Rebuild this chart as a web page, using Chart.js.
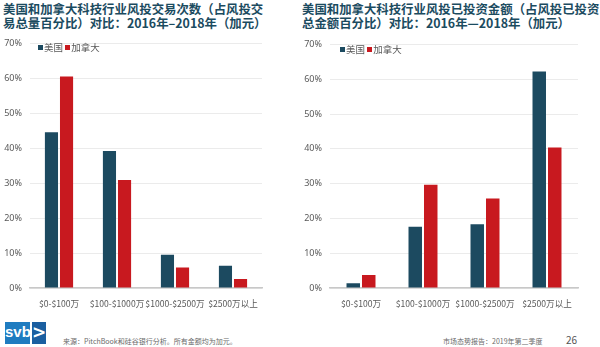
<!DOCTYPE html>
<html>
<head>
<meta charset="utf-8">
<script src="https://cdn.jsdelivr.net/npm/chart.js@4/dist/chart.umd.min.js"></script>
<style>
  body{margin:0;background:#fff;width:600px;height:347px;position:relative;overflow:hidden;font-family:"Noto Sans CJK SC","Noto Sans",sans-serif;}
  .title{position:absolute;top:2px;font-weight:bold;font-size:12.4px;line-height:14px;color:#1b4b5f;white-space:nowrap;}
  .legend{position:absolute;font-size:9.5px;color:#595959;white-space:nowrap;}
  .legend i{display:inline-block;width:5px;height:5px;margin-right:1px;vertical-align:1px;}
  canvas{position:absolute;}
  .logo{position:absolute;left:5px;top:322px;height:22px;}
  .logo .a{position:absolute;left:0;top:0;width:25px;height:22px;background:#1f7cc0;color:#fff;font:bold 15px "Liberation Sans",sans-serif;line-height:20px;text-align:center;}
  .logo .b{position:absolute;left:27px;top:0;width:14px;height:22px;background:#1b5fa0;color:#fff;font:bold 17px "DejaVu Sans",sans-serif;line-height:21px;text-align:center;}
  .foot{position:absolute;font-size:7px;color:#6a6a6a;white-space:nowrap;}
</style>
</head>
<body>
<div class="title" style="left:3px;">美国和加拿大科技行业风投交易次数（占风投交<br>易总量百分比）对比：2016年–2018年（加元）</div>
<div class="title" style="left:302px;">美国和加拿大科技行业风投已投资金额（占风投已投资<br>总金额百分比）对比：2016年—2018年（加元）</div>

<canvas id="c1" style="left:0;top:30px;" width="266" height="280"></canvas>
<canvas id="c2" style="left:300px;top:31px;" width="282" height="279"></canvas>

<div class="legend" style="left:38px;top:40px;"><i style="background:#1c4a60"></i>美国 <i style="background:#c8191f"></i>加拿大</div>
<div class="legend" style="left:340px;top:42px;"><i style="background:#1c4a60"></i>美国 <i style="background:#c8191f"></i>加拿大</div>

<div class="logo"><div class="a">svb</div><div class="b">&gt;</div></div>
<div class="foot" style="left:63px;top:336px;">来源：PitchBook和硅谷银行分析。所有金额均为加元。</div>
<div class="foot" style="left:443px;top:336px;">市场态势报告：2019年第二季度</div>
<div class="foot" style="left:566px;top:332px;font-size:10px;color:#555;">26</div>

<script>
const categories = ["$0-$100万","$100-$1000万","$1000-$2500万","$2500万以上"];
const seriesNames = ["美国","加拿大"];
const dealsUS = [44.6, 39.2, 9.5, 6.4];
const dealsCA = [60.5, 30.9, 5.9, 2.6];
const capitalUS = [1.4, 17.6, 18.3, 62.2];
const capitalCA = [3.7, 29.7, 25.7, 40.4];
const yTicks = [0, 10, 20, 30, 40, 50, 60, 70];

const colorUS = "#1c4a60";
const colorCA = "#c8191f";

function makeChart(id, us, ca, catPct){
  new Chart(document.getElementById(id), {
    type: "bar",
    data: {
      labels: categories,
      datasets: [
        {label: seriesNames[0], data: us, backgroundColor: colorUS},
        {label: seriesNames[1], data: ca, backgroundColor: colorCA}
      ]
    },
    options: {
      responsive: false,
      animation: false,
      devicePixelRatio: 1,
      layout: {padding: {top: 6, right: 4, left: 0, bottom: 0}},
      datasets: {bar: {categoryPercentage: catPct, barPercentage: 0.87}},
      plugins: {legend: {display: false}, tooltip: {enabled: false}},
      scales: {
        x: {
          grid: {display: false},
          border: {display: true, color: "#c8c8c8", width: 1.5},
          ticks: {color: "#595959", font: {family: "'Noto Sans CJK SC', 'Noto Sans'", size: 8.6}, padding: 3, maxRotation: 0, autoSkip: false},
          afterFit: s => { s.height = 22; }
        },
        y: {
          min: 0, max: 70,
          afterBuildTicks: s => { s.ticks = yTicks.map(v => ({value: v})); },
          grid: {color: "#ebebeb", drawTicks: false},
          border: {display: false},
          ticks: {color: "#595959", font: {family: "'Noto Sans', sans-serif", size: 9}, padding: 8, callback: v => v + "%"},
          afterFit: s => { s.width = 30; }
        }
      }
    }
  });
}

makeChart("c1", dealsUS, dealsCA, 0.52);
makeChart("c2", capitalUS, capitalCA, 0.5);
</script>
</body>
</html>
